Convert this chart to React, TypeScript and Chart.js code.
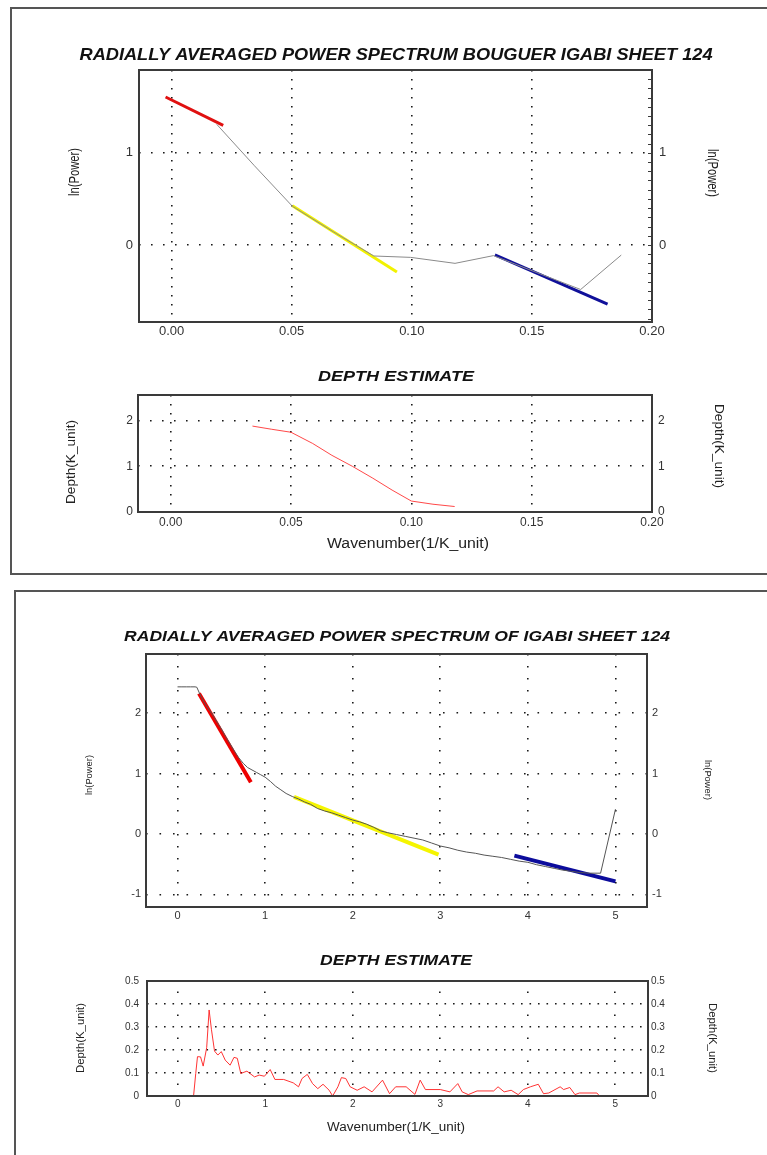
import React, { useEffect, useRef } from 'react';
import { Chart, registerables } from 'chart.js';

Chart.register(...registerables);

// ---------------- DATA ----------------
// Panel 1: Bouguer power spectrum
const bouguerWavenumber = [0.0188, 0.0345, 0.0503, 0.0675, 0.0842, 0.0995, 0.118, 0.134, 0.152, 0.1703, 0.1872];
const bouguerLnPower = [1.31, 0.86, 0.42, 0.14, -0.12, -0.135, -0.2, -0.116, -0.3, -0.484, -0.11];
const bouguerRedFitK = [-0.0025, 0.0215];
const bouguerRedFitP = [1.607, 1.298];
const bouguerYellowFitK = [0.0503, 0.0938];
const bouguerYellowFitP = [0.425, -0.295];
const bouguerBlueFitK = [0.1346, 0.1815];
const bouguerBlueFitP = [-0.109, -0.644];

// Panel 1: depth estimate
const bouguerDepthK = [0.034, 0.042, 0.05, 0.059, 0.067, 0.0755, 0.084, 0.092, 0.1, 0.109, 0.118];
const bouguerDepth = [1.88, 1.81, 1.745, 1.5, 1.24, 1.0, 0.74, 0.48, 0.24, 0.17, 0.12];

// Panel 2: power spectrum
const igabiWavenumber = [0, 0.05, 0.1, 0.15, 0.2, 0.22, 0.26, 0.3, 0.34, 0.38, 0.42, 0.46, 0.5, 0.55, 0.6, 0.65, 0.7, 0.75, 0.8, 0.85, 0.9, 0.95, 1.0, 1.06, 1.12, 1.18, 1.24, 1.31, 1.38, 1.45, 1.52, 1.6, 1.68, 1.76, 1.84, 1.92, 2.0, 2.08, 2.16, 2.24, 2.32, 2.4, 2.5, 2.6, 2.7, 2.8, 2.9, 3.0, 3.1, 3.2, 3.3, 3.4, 3.5, 3.6, 3.7, 3.8, 3.9, 4.0, 4.1, 4.2, 4.3, 4.4, 4.5, 4.6, 4.7, 4.8, 4.83, 5.0];
const igabiLnPower = [2.436, 2.436, 2.436, 2.436, 2.436, 2.43, 2.3, 2.19, 2.1, 2.02, 1.93, 1.83, 1.74, 1.61, 1.49, 1.37, 1.26, 1.17, 1.1, 1.06, 1.02, 0.98, 0.94, 0.87, 0.79, 0.73, 0.67, 0.62, 0.58, 0.53, 0.49, 0.42, 0.38, 0.35, 0.31, 0.27, 0.23, 0.2, 0.16, 0.11, 0.05, 0.02, -0.01, -0.04, -0.07, -0.1, -0.15, -0.2, -0.23, -0.27, -0.3, -0.32, -0.35, -0.37, -0.39, -0.42, -0.45, -0.47, -0.51, -0.54, -0.57, -0.6, -0.62, -0.64, -0.65, -0.65, -0.65, 0.41];
const igabiRedFitK = [0.245, 0.837];
const igabiRedFitP = [2.326, 0.856];
const igabiYellowFitK = [1.33, 2.98];
const igabiYellowFitP = [0.613, -0.343];
const igabiBlueFitK = [3.846, 5.0];
const igabiBlueFitP = [-0.359, -0.785];

// Panel 2: depth estimate
const igabiDepthK = [0, 0.18, 0.205, 0.225, 0.26, 0.29, 0.33, 0.358, 0.385, 0.42, 0.458, 0.497, 0.542, 0.598, 0.642, 0.68, 0.72, 0.79, 0.877, 0.93, 0.99, 1.056, 1.11, 1.21, 1.32, 1.38, 1.42, 1.48, 1.54, 1.6, 1.66, 1.73, 1.77, 1.83, 1.87, 1.92, 1.97, 2.05, 2.13, 2.22, 2.34, 2.42, 2.49, 2.61, 2.71, 2.77, 2.83, 3.0, 3.11, 3.2, 3.25, 3.32, 3.42, 3.61, 3.66, 3.73, 3.81, 3.89, 3.95, 4.03, 4.12, 4.18, 4.24, 4.37, 4.41, 4.48, 4.54, 4.59, 4.79, 4.82];
const igabiDepth = [0, 0, 0.098, 0.171, 0.17, 0.13, 0.21, 0.374, 0.288, 0.195, 0.178, 0.193, 0.156, 0.134, 0.168, 0.164, 0.098, 0.108, 0.083, 0.091, 0.086, 0.115, 0.072, 0.072, 0.057, 0.04, 0.076, 0.094, 0.054, 0.032, 0.051, 0.025, 0, 0.04, 0.08, 0.076, 0.04, 0.025, 0.04, 0.018, 0.069, 0.01, 0.04, 0.04, 0.007, 0.069, 0.028, 0.028, 0.018, 0.054, 0.018, 0.006, 0.022, 0.022, 0.04, 0.018, 0.025, 0.006, 0.028, 0.04, 0.051, 0.01, 0.013, 0.04, 0.028, 0.037, 0.006, 0.013, 0.013, 0];

// Tick values
const bouguerKTicks = [0, 0.05, 0.1, 0.15, 0.2];
const bouguerPowerTicks = [0, 1];
const bouguerDepthTicks = [0, 1, 2];
const igabiKTicks = [0, 1, 2, 3, 4, 5];
const igabiPowerTicks = [-1, 0, 1, 2];
const igabiDepthTicks = [0, 0.1, 0.2, 0.3, 0.4, 0.5];

// ---------------- HELPERS ----------------
const FONT = '"Liberation Sans", Arial, Helvetica, sans-serif';

const pts = (xs: number[], ys: number[]) => xs.map((x, i) => ({ x, y: ys[i] }));

type TextItem = {
  text: string; x: number; y: number; size: number;
  bold?: boolean; italic?: boolean; rot?: number; width?: number; color?: string;
};

const textPlugin = {
  id: 'panelText',
  afterDraw(chart: any, _a: any, opts: any) {
    const ctx = chart.ctx as CanvasRenderingContext2D;
    (opts.items || []).forEach((it: TextItem) => {
      ctx.save();
      ctx.font = `${it.italic ? 'italic ' : ''}${it.bold ? 'bold ' : ''}${it.size}px ${FONT}`;
      ctx.fillStyle = it.color || '#111';
      ctx.textAlign = 'center';
      ctx.textBaseline = 'middle';
      ctx.translate(it.x, it.y);
      if (it.rot) ctx.rotate((it.rot * Math.PI) / 180);
      if (it.width) {
        const m = ctx.measureText(it.text).width;
        if (m > 0) ctx.scale(it.width / m, 1);
      }
      ctx.fillText(it.text, 0, 0);
      ctx.restore();
    });
  },
};

const framePlugin = {
  id: 'plotFrame',
  afterDraw(chart: any, _a: any, opts: any) {
    const { left, top, right, bottom } = chart.chartArea;
    const ctx = chart.ctx as CanvasRenderingContext2D;
    ctx.save();
    ctx.strokeStyle = '#3a3a3a';
    ctx.lineWidth = 2;
    ctx.strokeRect(left, top, right - left, bottom - top);
    if (opts.rightTickStep) {
      const ys = chart.scales.y;
      const step = opts.rightTickStep;
      ctx.lineWidth = 1;
      for (let v = Math.ceil(ys.min / step) * step; v <= ys.max; v += step) {
        const py = Math.round(ys.getPixelForValue(v)) + 0.5;
        ctx.beginPath();
        ctx.moveTo(right, py);
        ctx.lineTo(right - 4, py);
        ctx.stroke();
      }
    }
    ctx.restore();
  },
};

type Spec = {
  cx: number; cy: number; cw: number; ch: number;
  L: number; R: number; T: number; B: number;
  xMin: number; xMax: number; xTicks: number[]; xDec: number;
  yMin: number; yMax: number; yTicks: number[]; yFmt: (v: number) => string;
  tickSize: number; xPad: number; yPadL: number; yPadR: number;
  xDash: number[]; xDashOff?: number; yDash: number[];
  rightTickStep?: number;
  datasets: any[];
  texts: TextItem[];
};

const GRID_COLOR = '#1a1a1a';
const GRID_WIDTH = 1.6;

function buildConfig(s: Spec): any {
  const leftW = s.L - s.cx;
  const rightW = s.cx + s.cw - s.R;
  const padTop = s.T - s.cy;
  const xH = s.cy + s.ch - s.B;
  const tickFont = { family: FONT, size: s.tickSize };
  const yCommon = (pos: 'left' | 'right', width: number, pad: number, grid: boolean) => ({
    type: 'linear',
    position: pos,
    min: s.yMin,
    max: s.yMax,
    afterFit: (sc: any) => { sc.width = width; },
    afterBuildTicks: (sc: any) => { sc.ticks = s.yTicks.map((value) => ({ value })); },
    ticks: {
      autoSkip: false, padding: pad,
      color: '#333', font: tickFont, callback: (v: any) => s.yFmt(Number(v)),
    },
    grid: { display: grid, color: GRID_COLOR, lineWidth: GRID_WIDTH, drawTicks: false, borderDash: s.yDash },
    border: { display: false, dash: s.yDash },
  });
  return {
    type: 'scatter',
    data: { datasets: s.datasets },
    options: {
      responsive: false,
      animation: false,
      devicePixelRatio: 1,
      layout: { padding: { top: padTop, left: 0, right: 0, bottom: 0 } },
      plugins: {
        legend: { display: false },
        tooltip: { enabled: false },
        title: { display: false },
        panelText: { items: s.texts.map((t) => ({ ...t, x: t.x - s.cx, y: t.y - s.cy })) },
        plotFrame: { rightTickStep: s.rightTickStep },
      },
      scales: {
        x: {
          type: 'linear',
          position: 'bottom',
          min: s.xMin,
          max: s.xMax,
          afterFit: (sc: any) => { sc.height = xH; },
          afterBuildTicks: (sc: any) => { sc.ticks = s.xTicks.map((value) => ({ value })); },
          ticks: {
            autoSkip: false, maxRotation: 0, minRotation: 0,
            padding: s.xPad, color: '#333', font: tickFont,
            callback: (v: any) => Number(v).toFixed(s.xDec),
          },
          grid: { color: GRID_COLOR, lineWidth: GRID_WIDTH, drawTicks: false, borderDash: s.xDash },
          border: { display: false, dash: s.xDash, dashOffset: s.xDashOff || 0 },
        },
        y: yCommon('left', leftW, s.yPadL, true),
        y2: yCommon('right', rightW, s.yPadR, false),
      },
    },
    plugins: [framePlugin, textPlugin],
  };
}

const line = (data: any[], color: string, width: number) => ({
  data, borderColor: color, backgroundColor: color, borderWidth: width,
  showLine: true, pointRadius: 0, pointHoverRadius: 0, fill: false, tension: 0,
});

function PlotCanvas({ spec }: { spec: Spec }) {
  const ref = useRef<HTMLCanvasElement>(null);
  useEffect(() => {
    if (!ref.current) return;
    const chart = new Chart(ref.current, buildConfig(spec));
    return () => chart.destroy();
  }, []);
  return (
    <canvas
      ref={ref}
      width={spec.cw}
      height={spec.ch}
      style={{ position: 'absolute', left: spec.cx, top: spec.cy, width: spec.cw, height: spec.ch }}
    />
  );
}

// ---------------- SPECS ----------------
const intFmt = (v: number) => String(Math.round(v));

const specA: Spec = {
  cx: 20, cy: 30, cw: 740, ch: 330,
  L: 139, R: 652, T: 70, B: 322,
  xMin: -0.01356, xMax: 0.2, xTicks: bouguerKTicks, xDec: 2,
  yMin: -0.837, yMax: 1.9, yTicks: bouguerPowerTicks, yFmt: intFmt,
  tickSize: 13, xPad: 2, yPadL: 6, yPadR: 7,
  xDash: [1.6, 7.4], yDash: [1.6, 10.4], rightTickStep: 0.1,
  datasets: [
    line(pts(bouguerWavenumber, bouguerLnPower), '#8a8a8a', 1),
    line(pts(bouguerRedFitK, bouguerRedFitP), '#e01010', 3),
    line(pts(bouguerYellowFitK, bouguerYellowFitP), '#f2f200', 3),
    line(pts(bouguerBlueFitK, bouguerBlueFitP), '#10109a', 3),
  ],
  texts: [
    { text: 'RADIALLY AVERAGED POWER SPECTRUM BOUGUER IGABI SHEET 124', x: 396, y: 55, size: 17, bold: true, italic: true, width: 633 },
    { text: 'ln(Power)', x: 75, y: 172, size: 14, rot: -90, width: 48, color: '#222' },
    { text: 'ln(Power)', x: 712, y: 173, size: 14, rot: 90, width: 48, color: '#222' },
  ],
};

const specB: Spec = {
  cx: 20, cy: 360, cw: 740, ch: 210,
  L: 138, R: 652, T: 395, B: 512,
  xMin: -0.01356, xMax: 0.2, xTicks: bouguerKTicks, xDec: 2,
  yMin: 0, yMax: 2.56, yTicks: bouguerDepthTicks, yFmt: intFmt,
  tickSize: 12, xPad: 3, yPadL: 5, yPadR: 6,
  xDash: [1.6, 7.4], yDash: [1.6, 10.4],
  datasets: [line(pts(bouguerDepthK, bouguerDepth), 'rgba(255,40,40,0.85)', 1)],
  texts: [
    { text: 'DEPTH ESTIMATE', x: 396, y: 377, size: 15, bold: true, italic: true, width: 156 },
    { text: 'Depth(K_unit)', x: 71, y: 462, size: 13, rot: -90, width: 84, color: '#222' },
    { text: 'Depth(K_unit)', x: 719, y: 446, size: 13, rot: 90, width: 84, color: '#222' },
    { text: 'Wavenumber(1/K_unit)', x: 408, y: 544, size: 14, width: 162, color: '#222' },
  ],
};

const specC: Spec = {
  cx: 20, cy: 600, cw: 740, ch: 330,
  L: 146, R: 647, T: 654, B: 907,
  xMin: -0.36, xMax: 5.36, xTicks: igabiKTicks, xDec: 0,
  yMin: -1.21, yMax: 2.98, yTicks: igabiPowerTicks, yFmt: intFmt,
  tickSize: 11, xPad: 2, yPadL: 5, yPadR: 5,
  xDash: [1.6, 10.4], yDash: [1.6, 11.9],
  datasets: [
    line(pts(igabiWavenumber, igabiLnPower), '#555555', 1),
    line(pts(igabiRedFitK, igabiRedFitP), '#ee0000', 4),
    line(pts(igabiYellowFitK, igabiYellowFitP), '#f5f500', 4),
    line(pts(igabiBlueFitK, igabiBlueFitP), '#0c0c9c', 4),
  ],
  texts: [
    { text: 'RADIALLY AVERAGED POWER SPECTRUM OF IGABI SHEET 124', x: 397, y: 637, size: 15, bold: true, italic: true, width: 546 },
    { text: 'ln(Power)', x: 90, y: 775, size: 9, rot: -90, width: 40, color: '#222' },
    { text: 'ln(Power)', x: 707, y: 780, size: 9, rot: 90, width: 40, color: '#222' },
  ],
};

const specD: Spec = {
  cx: 20, cy: 935, cw: 740, ch: 215,
  L: 147, R: 648, T: 981, B: 1096,
  xMin: -0.352, xMax: 5.374, xTicks: igabiKTicks, xDec: 0,
  yMin: 0, yMax: 0.5, yTicks: igabiDepthTicks, yFmt: (v) => (Math.abs(v) < 1e-9 ? '0' : v.toFixed(1)),
  tickSize: 10, xPad: 2, yPadL: 8, yPadR: 3,
  xDash: [1.6, 21.4], xDashOff: 12.5, yDash: [1.6, 6.9],
  datasets: [line(pts(igabiDepthK, igabiDepth), 'rgba(255,30,30,0.9)', 1)],
  texts: [
    { text: 'DEPTH ESTIMATE', x: 396, y: 961, size: 15, bold: true, italic: true, width: 152 },
    { text: 'Depth(K_unit)', x: 81, y: 1038, size: 10, rot: -90, width: 70, color: '#222' },
    { text: 'Depth(K_unit)', x: 712, y: 1038, size: 10, rot: 90, width: 70, color: '#222' },
    { text: 'Wavenumber(1/K_unit)', x: 396, y: 1128, size: 12, width: 138, color: '#222' },
  ],
};

export default function App() {
  return (
    <div
      style={{
        position: 'absolute', left: 0, top: 0, width: 767, height: 1155,
        overflow: 'hidden', background: '#fff',
      }}
    >
      <div style={{ position: 'absolute', left: 10, top: 7, width: 780, height: 568, border: '2px solid #555', boxSizing: 'border-box' }} />
      <div style={{ position: 'absolute', left: 14, top: 590, width: 780, height: 620, border: '2px solid #555', boxSizing: 'border-box' }} />
      <PlotCanvas spec={specA} />
      <PlotCanvas spec={specB} />
      <PlotCanvas spec={specC} />
      <PlotCanvas spec={specD} />
    </div>
  );
}
